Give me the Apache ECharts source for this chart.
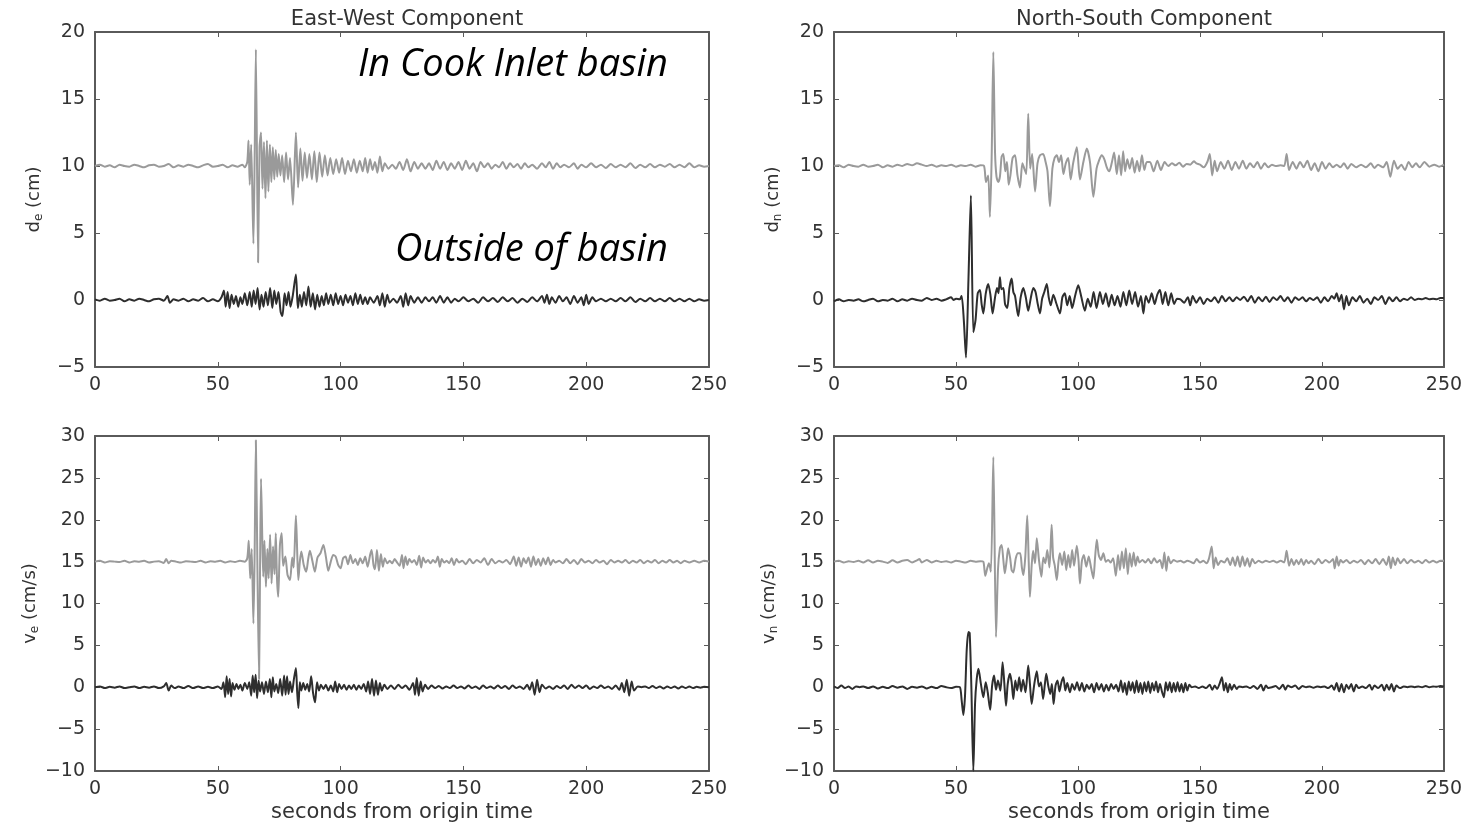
<!DOCTYPE html>
<html>
<head>
<meta charset="utf-8">
<script src="https://cdn.jsdelivr.net/npm/echarts@6/dist/echarts.min.js"></script>
<style>
html,body{margin:0;padding:0;background:#fff;}
#chart{width:1469px;height:827px;}
</style>
</head>
<body>
<div id="chart"></div>
<script>
// ---- DATA (time in seconds, value) ----
const panelTitles = ['East-West Component', 'North-South Component'];
const yNames = [['d', 'e', ' (cm)'], ['d', 'n', ' (cm)'], ['v', 'e', ' (cm/s)'], ['v', 'n', ' (cm/s)']];
const xName = 'seconds from origin time';
const labelBasin = 'In Cook Inlet basin';
const labelOutside = 'Outside of basin';
const xTicks = [0, 50, 100, 150, 200, 250];
const dispTicks = [-5, 0, 5, 10, 15, 20];
const velTicks = [-10, -5, 0, 5, 10, 15, 20, 25, 30];

const ewDispBasin = [[0,10],[2,10.1],[4,9.95],[6,10.05],[8,9.9],[10,10.1],[12,10],[14,9.95],[16,10.1],[18,10],[20,9.9],[22,10.05],[24,10.1],[26,9.95],[28,10],[30,10.15],[32,9.9],[34,10.05],[36,9.95],[38,10.1],[40,10],[42,9.9],[44,10.05],[46,10.15],[48,9.95],[50,10],[52,10.1],[54,9.9],[56,10.05],[58,9.95],[60,10.1],[61,9.9],[62,10.3],[62.5,11.9],[63,8.6],[63.6,11.6],[64.5,4.2],[65,10.5],[65.5,18.7],[66.4,2.8],[67,11.4],[67.6,12.5],[68.2,8.3],[68.8,11.8],[69.4,7.6],[70,11.9],[70.6,8.1],[71.2,11.6],[71.8,8.8],[72.4,11.4],[73,9.0],[73.6,11.2],[74.2,9.2],[74.8,10.9],[75.5,9.3],[76.2,10.8],[77,8.8],[77.8,11.0],[78.6,9.0],[79.4,10.6],[80.6,7.1],[81.8,12.5],[82.7,8.4],[83.6,11.3],[84.5,8.9],[85.4,11.0],[86.3,9.1],[87.3,10.9],[88.3,9.0],[89.3,11.1],[90.3,8.8],[91.4,11.0],[92.5,9.2],[93.6,10.8],[94.7,9.3],[95.8,10.6],[97,9.4],[98.2,10.5],[99.4,9.5],[100.6,10.6],[101.8,9.4],[103,10.4],[104.2,9.6],[105.4,10.5],[106.6,9.5],[107.8,10.4],[109,9.6],[110,10.6],[111,9.5],[112,10.5],[113,9.7],[114,10.3],[115,9.5],[116,10.7],[117,9.6],[118,10.2],[119.5,9.8],[121,10.1],[122.5,9.8],[124,10.3],[125.5,9.7],[127,10.5],[128.5,9.6],[130,10.3],[131.5,9.8],[133,10.2],[134.5,9.8],[136,10.2],[137.5,9.7],[139,10.4],[140.5,9.8],[142,10.3],[143.5,9.7],[145,10.2],[146.5,9.8],[148,10.3],[149.5,9.7],[151,10.4],[152.5,9.8],[154,10.2],[155.5,9.6],[157,10.3],[158.5,9.9],[160,10.2],[161.5,9.8],[163,10.1],[164.5,9.9],[166,10.3],[167.5,9.8],[169,10.2],[170.5,9.9],[172,10.15],[173.5,9.8],[175,10.2],[176.5,9.9],[178,10.1],[180,9.8],[182,10.2],[183.5,9.9],[185,10.3],[186.5,9.8],[188,10.2],[189.5,9.9],[191,10.1],[193,9.9],[195,10.2],[196.5,9.8],[198,10.1],[200,9.9],[202,10.2],[204,9.9],[206,10.1],[208,9.85],[210,10.15],[212,9.9],[214,10.1],[216,9.9],[218,10.2],[220,9.85],[222,10.1],[224,9.9],[226,10.15],[228,9.9],[230,10.1],[232,9.95],[234,10.15],[236,9.9],[238,10.1],[240,9.9],[242,10.2],[244,9.9],[246,10.05],[248,9.95],[250,10]];

const ewDispOutside = [[0,0.05],[2,-0.05],[4,0.1],[6,-0.05],[8,0],[10,0.1],[12,-0.1],[14,0.05],[16,-0.05],[18,0.1],[20,0],[22,-0.1],[24,0.05],[26,0.1],[28,-0.05],[29.5,0.3],[30.5,-0.2],[32,0.05],[34,-0.05],[36,0.1],[38,-0.1],[40,0.05],[42,-0.05],[44,0.15],[46,-0.1],[48,0.05],[50,-0.1],[51.5,0.2],[52.5,0.7],[53.2,-0.5],[54,0.6],[54.8,-0.6],[55.6,0.4],[56.5,-0.3],[57.4,0.3],[58.3,-0.5],[59.2,0.2],[60,-0.3],[61,0.5],[62,-0.4],[63,0.6],[63.8,-0.5],[64.6,0.7],[65.4,-0.3],[66.2,0.9],[67,-0.7],[67.8,0.4],[68.6,-0.5],[69.5,0.6],[70.4,-0.4],[71.3,0.9],[72.2,-0.6],[73,0.7],[73.8,-0.3],[74.7,0.6],[75.6,-0.9],[76.3,-1.2],[77.2,0.5],[78,-0.4],[78.8,0.6],[79.6,-0.5],[80.5,0.3],[81.8,1.9],[82.6,-0.6],[83.4,0.4],[84.2,-0.5],[85.1,0.6],[86,-0.4],[86.9,1.0],[87.8,-0.5],[88.7,0.5],[89.6,-0.7],[90.5,0.4],[91.4,-0.5],[92.3,0.3],[93.2,-0.4],[94.1,0.5],[95,-0.3],[96,0.4],[97,-0.4],[98,0.5],[99,-0.3],[100,0.3],[101,-0.4],[102,0.4],[103,-0.2],[104,0.3],[105,-0.4],[106,0.5],[107,-0.3],[108,0.4],[109,-0.3],[110,0.2],[111,-0.3],[112,0.2],[113.5,-0.2],[115,0.3],[116,-0.4],[117,0.5],[118,-0.5],[119,0.4],[120,-0.2],[121.5,0.1],[123,-0.2],[124.5,0.3],[125.5,-0.5],[126.5,0.5],[127.5,-0.4],[128.5,0.3],[130,-0.2],[131.5,0.2],[133,-0.2],[134.5,0.2],[136,-0.1],[137.5,0.2],[139,-0.2],[140.5,0.3],[142,-0.2],[143.5,0.2],[145,-0.2],[146.5,0.1],[148,-0.1],[150,0.2],[152,-0.1],[154,0.1],[156,-0.2],[158,0.2],[160,-0.1],[162,0.15],[164,-0.15],[166,0.2],[168,-0.1],[170,0.15],[172,-0.2],[174,0.1],[176,-0.15],[178,0.2],[180,-0.1],[182,0.3],[183,-0.2],[184,0.4],[185,-0.3],[186,0.2],[187.5,-0.2],[189,0.3],[190.5,-0.1],[192,0.2],[193.5,-0.3],[195,0.3],[196.5,-0.2],[198,0.2],[199,-0.4],[200,0.4],[201,-0.3],[202.5,0.2],[204,-0.1],[206,0.1],[208,-0.1],[210,0.1],[212,-0.1],[214,0.15],[216,-0.1],[218,0.2],[220,-0.15],[222,0.1],[224,-0.1],[226,0.15],[228,-0.1],[230,0.1],[232,-0.1],[234,0.15],[236,-0.1],[238,0.1],[240,-0.1],[242,0.1],[244,-0.1],[246,0.05],[248,-0.05],[250,0]];

const nsDispBasin = [[0,10],[2,10.05],[4,9.9],[6,10.1],[8,10],[10,9.95],[12,10.1],[14,9.95],[16,10],[18,10.1],[20,9.9],[22,10.05],[24,9.95],[26,10.1],[28,10],[30,10.15],[32,10.05],[34,10.2],[36,10.1],[38,10],[40,10.1],[42,9.95],[44,10.05],[46,10],[48,10.1],[50,9.95],[52,10.05],[54,10],[56,10.1],[58,9.95],[60,10.05],[61.5,10],[62.3,8.8],[63.2,9.3],[63.9,6.2],[64.6,10.5],[65.3,18.5],[66,11],[66.6,9.2],[67.3,8.8],[68,9.2],[68.7,10.7],[69.4,10.9],[70.2,9.6],[70.9,10.3],[71.6,8.6],[72.3,9.3],[73.2,10.6],[74.2,10.8],[75.2,9.3],[76.2,8.4],[77.2,10.2],[78,9.8],[78.8,9.4],[79.6,13.9],[80.4,9.8],[81.2,10.9],[82.4,8.1],[83.4,10.2],[84.4,10.8],[85.7,10.9],[86.6,10.4],[87.5,9.6],[88.5,7.0],[89.5,9.8],[90.4,10.6],[91.3,10.8],[92.2,10.3],[93.1,10.8],[94,9.4],[95,10.2],[96,10.6],[97,9.0],[98,10.2],[99.5,11.4],[100.8,9.0],[102.2,10.3],[103.6,11.3],[104.9,10.3],[106.3,7.7],[107.6,9.8],[108.6,10.4],[109.7,10.8],[110.8,10.5],[111.8,9.9],[112.8,9.6],[113.8,10.2],[114.8,11.0],[115.9,9.4],[116.8,10.8],[117.7,9.3],[118.5,11.1],[119.3,9.6],[120.2,10.5],[121.2,9.8],[122.2,10.6],[123.2,9.5],[124.2,10.4],[125.2,9.6],[126.2,10.8],[127.2,9.7],[128.2,10.3],[129.5,10.3],[131,9.6],[132.5,10.4],[134,9.7],[135.5,10.3],[137,10],[138.5,10.2],[140,10.05],[141.5,10.25],[143,9.95],[144.5,10.15],[146,10.1],[147.5,10.35],[148.5,10.2],[150,10.1],[151.5,9.9],[153,10.3],[154,10.9],[155,9.3],[156,10.4],[157,9.6],[158.5,10.3],[160,9.8],[161.5,10.4],[163,9.7],[164.5,10.3],[166,9.8],[167.5,10.4],[169,9.8],[170.5,10.2],[172,9.9],[173.5,10.3],[175,9.8],[176.5,10.2],[178,9.9],[179.5,10.1],[181,10],[183,10.05],[184.5,10],[185.5,10.9],[186.5,9.7],[188,10.3],[189.5,9.8],[191,10.3],[192.5,9.9],[194,10.4],[195.5,9.7],[197,10.2],[198.5,9.6],[200,10.3],[201.5,9.8],[203,10.2],[204.5,9.9],[206,10.1],[207.5,9.9],[209,10.2],[210.5,9.8],[212,10.15],[214,9.9],[216,10.1],[218,9.9],[220,10.2],[221.5,9.85],[223,10.1],[225,9.9],[226.5,10.3],[228,9.2],[229.5,10.4],[231,9.8],[232.5,10.1],[234,9.7],[235.5,10.3],[237,9.9],[238.5,10.2],[240,9.9],[242,10.3],[244,9.95],[246,10.1],[248,9.95],[250,10.1]];

const nsDispOutside = [[0,-0.1],[2,0.05],[4,-0.1],[6,0],[8,-0.05],[10,0.05],[12,-0.1],[14,0],[16,0.1],[18,-0.1],[20,0],[22,-0.05],[24,0.1],[26,-0.1],[28,0.05],[30,-0.05],[32,0.1],[34,0],[36,-0.05],[38,0.15],[40,0],[42,0.1],[44,-0.05],[46,0.05],[48,0.2],[49,0],[50,0.1],[51.5,0.05],[52.3,0.3],[53.2,-1.5],[54.1,-4.3],[55.1,1.5],[56.1,7.8],[57.1,-2.4],[58,-1.5],[58.9,0.5],[59.8,0.75],[60.5,-0.3],[61.2,-1.0],[62.2,0.5],[63.2,1.2],[64.1,0.4],[65,-1.0],[66,0.2],[66.8,0.9],[67.4,0.5],[68,1.7],[68.6,0.8],[69.4,0.9],[70.1,-0.3],[71,-0.6],[71.9,0.9],[72.8,1.6],[73.5,0.6],[74.2,0.3],[75.5,-1.2],[76.5,0.2],[77.6,0.9],[78.6,0.2],[79.6,-0.8],[80.6,0.1],[81.7,0.9],[82.6,0.6],[83.4,-0.2],[84.4,-1.0],[85.3,0.1],[86.2,0.6],[87.2,1.2],[88,0.2],[88.8,-0.4],[89.9,0.4],[91.2,-0.3],[92.6,-1.0],[93.6,0.2],[94.6,0.5],[95.6,-0.4],[96.6,0.3],[97.6,-0.6],[98.8,0.3],[100.1,1.1],[101.4,0.2],[102.8,-0.8],[104,0.1],[105.2,-0.5],[106.4,0.6],[107.6,-0.6],[109,0.6],[110.2,-0.3],[111.4,0.5],[112.6,-0.5],[113.8,0.4],[115,-0.4],[116.2,0.3],[117.4,-0.5],[118.6,0.6],[119.8,-0.4],[121,0.7],[122.2,-0.3],[123.4,0.6],[124.6,-0.5],[125.8,0.3],[126.8,-1.0],[127.8,0.3],[129,-0.2],[130.2,0.5],[131.4,-0.3],[132.5,0.4],[133.6,0.75],[134.7,-0.3],[135.8,0.6],[137,-0.4],[138.2,0.5],[139.4,-0.3],[140.6,0.1],[142,0.05],[143.5,-0.2],[145,0.2],[146,-0.4],[147,0.3],[148.5,-0.2],[150,0.2],[151.5,-0.3],[153,0.1],[154.5,-0.1],[156,0.2],[157.5,-0.2],[159,0.3],[160.5,-0.1],[162,0.2],[163.5,-0.1],[165,0.2],[166.5,0],[168,0.25],[169.5,-0.1],[171,0.3],[172.5,-0.2],[174,0.2],[175.5,-0.1],[177,0.25],[178.5,-0.15],[180,0.2],[181.5,0],[183,0.3],[184.5,-0.1],[186,0.2],[187.5,-0.2],[189,0.2],[190.5,0],[192,0.2],[193.5,-0.1],[195,0.15],[196.5,0],[198,0.2],[199.5,-0.2],[201,0.2],[202.5,-0.1],[204,0.3],[205,0.1],[206,0.5],[207,-0.1],[208,0.4],[209,-0.7],[210,0.3],[211,-0.4],[212.5,0.2],[214,-0.1],[215.5,0.3],[217,-0.2],[218.5,0.1],[220,-0.3],[221.5,0.2],[223,0],[224.5,0.3],[226,-0.3],[227.5,0.2],[229,-0.1],[230.5,0.2],[232,-0.1],[233.5,0.1],[235,0],[236.5,0.2],[238,0],[239.5,0.1],[241,0.05],[242.5,0.15],[244,0.05],[245.5,0.1],[247,0.05],[248.5,0.15],[250,0.15]];

const ewVelBasin = [[0,15],[2,15.1],[4,14.9],[6,15.05],[8,15],[10,14.95],[12,15.1],[14,14.9],[16,15.05],[18,15],[20,15.1],[22,14.9],[24,15],[26,15.05],[28,14.85],[29,15.3],[30,14.8],[31,15.1],[33,15],[35,14.9],[37,15.05],[39,15],[41,14.95],[43,15.1],[45,14.9],[47,15.05],[49,15],[51,15.1],[53,14.9],[55,15.05],[57,14.95],[59,15.1],[61,15],[62,15.4],[62.6,17.5],[63.2,13.0],[63.8,16.5],[64.5,7.6],[65,16],[65.5,29.5],[66.1,15],[66.8,1.0],[67.2,14],[67.6,24.9],[68.1,18],[68.5,13.2],[69,17.5],[69.6,12],[70.2,16.5],[70.7,13],[71.3,18.2],[71.9,12.4],[72.5,16.8],[73.1,13.5],[73.6,18.4],[74.1,13],[74.6,10.8],[75.3,17],[76,18.4],[76.6,14.5],[77.5,15.6],[78.4,13.4],[79.4,12.8],[80.3,15.5],[80.9,14.3],[81.8,20.5],[82.4,15.5],[82.8,12.8],[83.4,15],[84,16.2],[85,14.6],[86,13.8],[86.8,15.3],[87.5,16.3],[88.5,15.1],[89.5,13.8],[90.6,15.5],[91.8,16],[93,17.0],[94,15.6],[95,13.9],[96,15],[97,15.8],[98,15.6],[99,14.6],[100,14.2],[101,15.4],[102,15.6],[103,14.7],[104,15.8],[105,14.8],[106,15.3],[107,14.6],[108,15.4],[109,14.8],[110,15.6],[111,14.4],[112,15.8],[112.6,16.4],[113.4,14.6],[114,14.1],[114.8,16.4],[115.6,13.9],[116.4,15.9],[117.2,14.4],[118,15.4],[119,14.8],[120,15.1],[121,14.8],[122,15.3],[123,14.9],[124,14.5],[125,15.8],[125.6,14.2],[126.4,15.6],[127.2,14.6],[128,15.3],[129,14.9],[130,15.2],[131,14.6],[132,15.7],[132.8,14.3],[133.6,15.5],[134.6,14.9],[135.6,15.2],[136.6,14.8],[137.6,15.2],[138.6,14.9],[139.6,15.6],[140.4,14.4],[141.2,15.3],[142.2,14.9],[143.2,15.1],[144.2,14.8],[145.2,15.4],[146.2,14.6],[147.2,15.3],[148.2,14.9],[149.5,15.1],[151,14.7],[152.5,15.3],[154,14.8],[155.5,15.2],[157,14.9],[158.5,15.4],[160,14.6],[161.5,15.3],[163,14.8],[164.5,15.1],[166,14.9],[167.5,15.2],[169,14.7],[170.5,15.6],[171.5,14.5],[172.5,15.5],[173.5,14.4],[174.5,15.4],[175.5,14.8],[176.5,15.5],[177.5,14.4],[178.5,15.6],[179.5,14.6],[180.5,15.3],[181.5,14.5],[182.5,15.4],[183.5,14.7],[184.5,15.5],[185.5,14.6],[186.5,15.2],[187.5,14.9],[189,15.1],[190.5,14.8],[192,15.3],[193.5,14.8],[195,15.2],[196.5,14.7],[198,15.3],[199.5,14.9],[201,15.1],[202.5,14.8],[204,15.2],[205.5,14.9],[207,15.1],[208.5,14.7],[210,15.2],[211.5,14.9],[213,15.1],[214.5,14.9],[216,15.2],[217.5,14.8],[219,15.1],[220.5,14.9],[222,15.2],[223.5,14.8],[225,15.1],[226.5,14.9],[228,15.2],[229.5,14.8],[231,15.1],[232.5,14.9],[234,15.2],[235.5,14.9],[237,15.1],[238.5,14.8],[240,15.1],[242,14.9],[244,15.1],[246,14.9],[248,15.1],[250,15]];

const ewVelOutside = [[0,0],[2,0.1],[4,-0.1],[6,0.05],[8,-0.05],[10,0.1],[12,-0.1],[14,0],[16,0.1],[18,-0.1],[20,0.05],[22,-0.05],[24,0.1],[26,-0.1],[28,0.1],[29,0.5],[30,-0.4],[31,0.2],[32.5,-0.1],[34,0.1],[36,-0.1],[38,0.15],[40,-0.1],[42,0.1],[44,-0.1],[46,0.05],[48,-0.1],[50,0.1],[51.5,-0.2],[52.3,0.6],[53,-1.2],[53.6,1.3],[54.2,-0.8],[54.8,1.0],[55.4,-1.1],[56,0.5],[56.8,-0.3],[57.6,0.4],[58.4,-0.2],[59.2,0.3],[60,-0.4],[61,0.5],[62,-0.2],[62.8,0.6],[63.6,-1.0],[64.2,1.4],[64.8,-0.6],[65.4,1.5],[66,-1.3],[66.6,0.8],[67.2,-0.5],[68,0.6],[68.8,-0.8],[69.6,0.7],[70.4,-0.6],[71.2,1.0],[71.8,-1.2],[72.4,1.2],[73,-0.5],[73.8,0.4],[74.6,-0.7],[75.4,1.0],[76.2,-1.0],[77,1.4],[77.6,-0.9],[78.2,1.3],[78.8,-0.8],[79.4,0.7],[80.2,-0.6],[81,1.0],[81.8,2.3],[82.3,-0.5],[82.8,-2.5],[83.4,0.6],[84,-0.4],[84.8,0.5],[85.6,-0.3],[86.4,0.4],[87.2,-0.5],[88,1.3],[88.8,-0.7],[89.6,-1.8],[90.4,0.6],[91.2,-0.4],[92,0.3],[93,-0.2],[94,0.3],[95,-0.4],[96,0.2],[97,-0.5],[97.8,0.7],[98.6,-0.6],[99.4,0.4],[100.4,-0.2],[101.4,0.3],[102.4,-0.3],[103.4,0.2],[104.4,-0.2],[105.4,0.3],[106.4,-0.3],[107.4,0.2],[108.4,-0.2],[109.4,0.4],[110.4,-0.5],[111.2,0.7],[112,-0.8],[112.8,1.0],[113.6,-1.0],[114.4,0.8],[115.2,-0.9],[116,0.5],[116.8,-0.4],[117.8,0.3],[119,-0.2],[120.5,0.2],[122,-0.2],[123.5,0.3],[125,-0.1],[126.5,0.2],[128,-0.3],[129.5,0.5],[130.3,-0.9],[131,1.1],[131.8,-1.0],[132.6,0.7],[133.4,-0.5],[134.4,0.3],[135.6,-0.2],[137,0.2],[138.5,-0.1],[140,0.15],[141.5,-0.15],[143,0.1],[144.5,-0.1],[146,0.2],[147.5,-0.1],[149,0.1],[150.5,-0.15],[152,0.2],[153.5,-0.1],[155,0.1],[156.5,-0.2],[158,0.2],[159.5,-0.1],[161,0.1],[162.5,-0.15],[164,0.2],[165.5,-0.1],[167,0.15],[168.5,-0.2],[170,0.2],[171.5,-0.1],[173,0.1],[174.5,-0.2],[176,0.3],[177,-0.3],[178,0.6],[179,-0.9],[180,0.9],[181,-0.6],[182,0.3],[183.5,-0.15],[185,0.1],[186.5,-0.2],[188,0.15],[189.5,-0.1],[191,0.2],[192.5,-0.2],[194,0.3],[195.5,-0.1],[197,0.2],[198.5,-0.1],[200,0.2],[201.5,-0.2],[203,0.1],[204.5,-0.1],[206,0.2],[207.5,-0.1],[209,0.1],[210.5,-0.2],[212,0.2],[213.5,-0.3],[214.5,0.5],[215.5,-0.6],[216.5,0.9],[217.5,-1.0],[218.5,0.7],[219.5,-0.4],[221,0.1],[222.5,0],[224,0.1],[225.5,-0.1],[227,0.15],[228.5,-0.1],[230,0.1],[231.5,-0.15],[233,0.1],[234.5,-0.1],[236,0.1],[237.5,-0.15],[239,0.1],[240.5,-0.1],[242,0.1],[243.5,-0.1],[245,0.05],[246.5,-0.05],[248,0.05],[250,0]];

const nsVelBasin = [[0,15],[2,15.1],[4,14.9],[6,15.05],[8,14.95],[10,15.1],[12,14.9],[14,15.15],[16,14.9],[18,15.1],[20,15],[22,14.85],[24,15.15],[26,14.9],[28,15.1],[30,15.2],[32,14.9],[34,15.15],[35,15.3],[36,14.9],[38,15.2],[40,14.9],[42,15.1],[44,14.95],[46,15.05],[48,14.9],[50,15.1],[52,15],[54,14.9],[56,15.1],[58,15],[60,15.05],[61.2,15],[62,13.3],[62.8,14.2],[63.5,14.8],[64.3,13.8],[65.3,27.5],[66.4,6.0],[67.2,14],[68,16.6],[68.7,17.0],[69.4,15.2],[70,13.6],[70.7,15],[71.4,16.6],[72.2,15.4],[72.8,14.0],[73.5,13.7],[74.5,15.4],[75.4,16.0],[76.3,16.0],[77,14.3],[77.6,13.4],[78.4,15.6],[79.2,20.5],[79.8,15],[80.3,10.8],[81,14.5],[81.6,16.3],[82.4,14.8],[83.1,17.8],[84,15.2],[85,13.2],[85.8,15.5],[86.6,14.8],[87.4,16.4],[88.3,14.3],[89.2,19.4],[89.8,15.5],[90.5,14.5],[91.3,12.8],[92,15],[92.6,16],[93.5,14.6],[94.4,16.2],[95.2,14],[96,15.8],[96.8,14.3],[97.6,16.4],[98.4,14.5],[99.5,16.9],[100.2,15.2],[100.8,12.4],[101.6,15.1],[102.4,15.8],[103.4,14.4],[104.4,15.6],[105.4,14.2],[106.3,13.0],[107,15.5],[107.7,17.6],[108.5,15.8],[109.4,15.2],[110.4,16],[111.4,15],[112.4,15.2],[113.4,14.9],[114.4,15.4],[115.5,13.3],[116.4,15.8],[117.2,14],[118,16.2],[118.8,14.2],[119.6,16.6],[120.4,13.5],[121.2,16],[122,14.4],[122.8,16.1],[123.6,14.5],[124.4,15.6],[125.2,14.9],[126.4,15.2],[127.6,14.9],[128.8,15.3],[130,14.8],[131.2,15.4],[132.4,14.9],[133.6,15.2],[134.6,14.2],[135.4,16.1],[136.2,13.9],[137,15.6],[138,14.8],[139.2,15.2],[140.6,15],[142,15.1],[143.4,14.9],[144.8,15.1],[146,15.0],[147.4,14.8],[148.6,15.3],[150,14.9],[151.4,15.1],[152.6,14.8],[153.6,15.3],[154.8,16.8],[155.6,14.2],[156.4,15.5],[157.4,14.6],[158.6,15.1],[160,14.9],[161.2,15.4],[162.4,14.6],[163.4,15.5],[164.4,14.5],[165.4,15.6],[166.4,14.4],[167.4,15.6],[168.4,14.5],[169.4,15.4],[170.4,14.4],[171.4,15.3],[172.6,14.8],[174,15.1],[175.5,14.9],[177,15.1],[178.5,14.95],[180,15.1],[181.5,14.9],[183,15.1],[184.5,14.9],[185.5,16.3],[186.5,14.5],[187.5,15.3],[188.5,14.6],[189.5,15.2],[190.5,14.7],[191.5,15.3],[192.5,14.6],[193.5,15.2],[194.5,14.8],[195.5,15.1],[197,14.7],[198.5,15.3],[200,14.8],[201.5,15.2],[203,14.9],[204.5,15.3],[205.2,14.2],[206,15.6],[206.8,14.5],[207.6,15.2],[208.6,14.9],[210,15.2],[211.5,14.8],[213,15.1],[214.5,14.9],[216,15.2],[217.5,14.7],[219,15.2],[220.5,14.8],[222,15.3],[223.5,14.7],[225,15.3],[226.4,14.6],[227.4,15.6],[228.2,14.2],[229,15.5],[230,14.6],[231,15.4],[232.2,14.8],[233.6,15.3],[235,14.8],[236.5,15.2],[238,14.9],[239.5,15.1],[241,14.8],[242.5,15.2],[244,14.9],[245.5,15.1],[247,14.9],[248.5,15.1],[250,15.1]];

const nsVelOutside = [[0,0.1],[1.5,-0.1],[3,0.2],[4.5,-0.1],[6,0.1],[7.5,-0.2],[9,0.1],[10.5,0],[12,0.1],[14,-0.1],[16,0.1],[18,-0.15],[20,0.05],[22,-0.1],[24,0.15],[26,-0.05],[28,0.1],[30,-0.2],[32,0.05],[34,-0.05],[36,0.1],[38,-0.15],[40,0.05],[42,-0.1],[44,0.15],[46,0],[48,-0.1],[50,0.05],[51.6,0],[52.3,-1.5],[53,-3.3],[53.7,-1.0],[54.4,4.5],[55.1,6.6],[55.6,6.5],[56.3,0],[57.1,-10],[57.8,-2],[58.5,1.0],[59.2,2.2],[60.2,0.4],[61.2,-1.2],[62.2,0.6],[63,-0.6],[64,-2.7],[64.8,0.2],[65.6,1.4],[66.4,-0.3],[67.2,0.8],[68.2,-0.4],[69.1,3.0],[69.8,0.5],[70.5,-2.2],[71.2,0.4],[72.1,1.6],[72.8,0.6],[73.5,-1.4],[74.3,0.8],[75.1,-0.4],[75.9,1.2],[76.7,-0.5],[77.5,0.9],[78.5,-0.6],[79.6,2.6],[80.3,0.4],[81,-2.0],[82,0.2],[83.1,1.9],[84,0.1],[84.8,0.6],[85.7,-1.4],[86.4,0.3],[87,1.6],[87.8,0.2],[88.6,-0.8],[89.3,0.4],[90,-2.0],[90.8,0.2],[91.6,0.8],[92.4,-0.5],[93.2,0.6],[94,1.2],[94.8,-0.4],[95.6,0.5],[96.7,-0.6],[97.6,0.4],[98.6,-0.3],[99.6,0.6],[100.6,-0.4],[101.6,0.5],[102.6,-0.5],[103.6,0.3],[104.6,-0.2],[105.6,0.4],[106.6,-0.6],[107.6,0.5],[108.6,-0.3],[109.6,0.4],[110.6,-0.5],[111.6,0.3],[112.6,-0.4],[113.6,0.4],[114.6,-0.2],[115.6,0.3],[116.6,-0.5],[117.6,0.8],[118.4,-0.6],[119.2,0.5],[120,-0.9],[120.8,0.7],[121.6,-0.4],[122.4,0.6],[123.2,-0.7],[124,0.8],[124.8,-0.6],[125.6,0.5],[126.4,-0.8],[127.2,0.6],[128,-0.5],[128.8,0.7],[129.6,-0.7],[130.4,0.5],[131.2,-0.4],[132,0.7],[132.8,-0.6],[133.6,0.4],[134.4,-0.5],[135.2,-1.2],[136,0.6],[136.8,-0.4],[137.6,0.6],[138.4,-0.6],[139.2,0.5],[140,-0.5],[140.8,0.6],[141.6,-0.5],[142.4,0.4],[143.2,-0.6],[144,0.5],[144.8,-0.4],[145.6,0.3],[146.6,0],[148,0.1],[149.5,-0.1],[151,0.1],[152.5,-0.1],[154,0.3],[155,-0.3],[156,0.2],[157,-0.2],[158,0.4],[159,1.2],[159.8,-0.4],[160.6,0.5],[161.4,-0.6],[162.2,0.4],[163,-0.3],[164,0.3],[165,-0.2],[166,0.1],[167.5,0],[169,0.1],[170.5,-0.1],[172,0.15],[173.5,-0.2],[175,0.3],[176,-0.4],[177,0.2],[178,-0.1],[179.5,0],[181,0.15],[182.5,-0.2],[184,0.3],[185,-0.3],[186,0.2],[187.5,0],[189,0.2],[190.5,-0.2],[192,0.15],[193.5,0],[195,0.1],[196.5,-0.05],[198,0.1],[199.5,0],[201,0.1],[202.5,-0.1],[204,0.2],[205,-0.3],[206,0.5],[207,-0.5],[208,0.4],[209,-0.6],[210,0.3],[211,-0.2],[212,0.4],[213,-0.5],[214,0.3],[215,-0.1],[216.5,0.1],[218,-0.1],[219.5,0.3],[220.5,-0.3],[221.5,0.2],[223,-0.1],[224.5,0.3],[225.5,-0.4],[226.5,0.3],[227.5,-0.3],[228.5,0.4],[229.5,-0.5],[230.5,0.2],[232,-0.1],[233.5,0.1],[235,0],[236.5,0.1],[238,0],[239.5,0.1],[241,0],[242.5,0.15],[244,0],[245.5,0.1],[247,0.05],[248.5,0.15],[250,0.1]];

// ---- LAYOUT / STYLE ----
const FONT = 'DejaVu Sans';
const TXT = '#333333';
const FRAME = '#5a5a5a';
const GRAY = '#9a9a9a';
const BLACK = '#2e2e2e';
const grids = [
  {left: 95, top: 32, width: 614, height: 335},
  {left: 834, top: 32, width: 610, height: 335},
  {left: 95, top: 436, width: 614, height: 335},
  {left: 834, top: 436, width: 610, height: 335}
];
const yRanges = [dispTicks, dispTicks, velTicks, velTicks];
const minus = v => String(v).replace('-', '\u2212');

const xAxis = [], yAxis = [];
grids.forEach((g, i) => {
  const base = {
    gridIndex: i, type: 'value', min: xTicks[0], max: xTicks[xTicks.length - 1],
    interval: xTicks[1] - xTicks[0],
    axisLine: {show: true, onZero: false, lineStyle: {color: FRAME, width: 2}},
    axisTick: {show: true, inside: true, length: 5, lineStyle: {color: FRAME, width: 1}},
    splitLine: {show: false}
  };
  xAxis.push(Object.assign({}, base, {
    position: 'bottom',
    axisLabel: {show: true, margin: 9, color: TXT, fontSize: 19, fontFamily: FONT, formatter: minus},
    name: i >= 2 ? xName : '', nameLocation: 'middle', nameGap: 31,
    nameTextStyle: {color: TXT, fontSize: 21, fontFamily: FONT}
  }));
  xAxis.push(Object.assign({}, base, {position: 'top', axisLabel: {show: false}}));
  const t = yRanges[i];
  const ybase = {
    gridIndex: i, type: 'value', min: t[0], max: t[t.length - 1], interval: t[1] - t[0],
    axisLine: {show: true, onZero: false, lineStyle: {color: FRAME, width: 2}},
    axisTick: {show: true, inside: true, length: 5, lineStyle: {color: FRAME, width: 1}},
    splitLine: {show: false}
  };
  const nm = yNames[i];
  yAxis.push(Object.assign({}, ybase, {
    position: 'left',
    axisLabel: {show: true, margin: 10, color: TXT, fontSize: 19, fontFamily: FONT, formatter: minus},
    name: '{m|' + nm[0] + '}{s|' + nm[1] + '}{m|' + nm[2] + '}',
    nameLocation: 'middle', nameGap: 50, nameRotate: 90,
    nameTextStyle: {color: TXT, fontSize: 19, fontFamily: FONT,
      rich: {
        m: {fontSize: 18, fontFamily: FONT, color: TXT},
        s: {fontSize: 12, fontFamily: FONT, color: TXT, padding: [9, 0, 0, 0]}
      }}
  }));
  yAxis.push(Object.assign({}, ybase, {position: 'right', axisLabel: {show: false}}));
});

const traces = [
  [ewDispOutside, 0, BLACK], [ewDispBasin, 0, GRAY],
  [nsDispOutside, 1, BLACK], [nsDispBasin, 1, GRAY],
  [ewVelOutside, 2, BLACK], [ewVelBasin, 2, GRAY],
  [nsVelOutside, 3, BLACK], [nsVelBasin, 3, GRAY]
];
const series = traces.map(([d, gi, c]) => ({
  type: 'line', data: d, xAxisIndex: gi * 2, yAxisIndex: gi * 2,
  showSymbol: false, symbol: 'none', smooth: 0.25, animation: false,
  lineStyle: {color: c, width: 2}, z: c === GRAY ? 3 : 2
}));

const chart = echarts.init(document.getElementById('chart'), null, {renderer: 'canvas'});
chart.setOption({
  backgroundColor: '#ffffff',
  animation: false,
  title: [
    {text: panelTitles[0], left: 402, top: 4, textAlign: 'center',
     textStyle: {color: TXT, fontSize: 21, fontWeight: 'normal', fontFamily: FONT}},
    {text: panelTitles[1], left: 1139, top: 4, textAlign: 'center',
     textStyle: {color: TXT, fontSize: 21, fontWeight: 'normal', fontFamily: FONT}}
  ],
  grid: grids.map(g => Object.assign({containLabel: false}, g)),
  xAxis: xAxis,
  yAxis: yAxis,
  series: series,
  graphic: [
    {type: 'text', right: 1469 - 668, top: 46, style: {text: labelBasin, fill: '#000',
      font: 'italic 38px "Open Sans"', textAlign: 'right'}},
    {type: 'text', right: 1469 - 668, top: 231, style: {text: labelOutside, fill: '#000',
      font: 'italic 38px "Open Sans"', textAlign: 'right'}}
  ]
});
</script>
</body>
</html>
